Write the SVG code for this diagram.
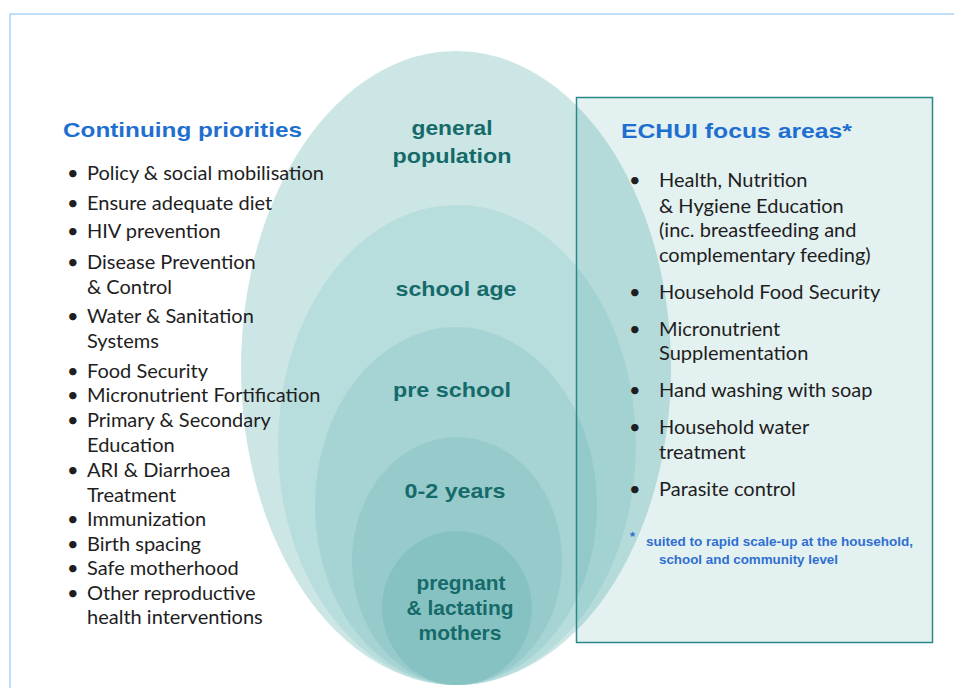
<svg xmlns="http://www.w3.org/2000/svg" width="954" height="688" viewBox="0 0 954 688">
<style>
.frame{fill:none;stroke:#a9d2f7;stroke-width:1.5}
.title{font-family:"Liberation Sans",Arial,sans-serif;font-weight:bold;font-size:21px;fill:#1f6fd0}
.body{font-family:Lato,"Liberation Sans",sans-serif;font-size:20px;fill:#1e1e1e}
.lab{font-family:"Liberation Sans",Arial,sans-serif;font-weight:bold;font-size:21px;fill:#156a6a;text-anchor:middle}
.note{font-family:"Liberation Sans",Arial,sans-serif;font-weight:bold;font-size:12px;fill:#2f6fd0}
</style>
<rect width="954" height="688" fill="#ffffff"/>
<path class="frame" d="M10,688 V14 H954"/>
<g id="ellipses">
<g id="general-population">
<ellipse cx="456" cy="368" rx="215" ry="317" fill="#cce6e6"/>
<text class="lab" x="452" y="135" textLength="81" lengthAdjust="spacingAndGlyphs">general</text>
<text class="lab" x="452" y="163" textLength="119" lengthAdjust="spacingAndGlyphs">population</text>
</g>
<g id="school-age">
<ellipse cx="457" cy="445" rx="179" ry="240" fill="#b8dddd"/>
<text class="lab" x="456" y="296" textLength="121" lengthAdjust="spacingAndGlyphs">school age</text>
</g>
<g id="pre-school">
<ellipse cx="456" cy="506" rx="141" ry="179" fill="#a6d3d3"/>
<text class="lab" x="452" y="397" textLength="118" lengthAdjust="spacingAndGlyphs">pre school</text>
</g>
<g id="zero-two-years">
<ellipse cx="457" cy="561" rx="105" ry="124" fill="#97cbcb"/>
<text class="lab" x="455" y="498" textLength="101" lengthAdjust="spacingAndGlyphs">0-2 years</text>
</g>
<g id="pregnant-lactating">
<ellipse cx="457" cy="608" rx="75" ry="77" fill="#87c2c2"/>
<text class="lab" x="461" y="590" textLength="89" lengthAdjust="spacingAndGlyphs">pregnant</text>
<text class="lab" x="460" y="615" textLength="107" lengthAdjust="spacingAndGlyphs">&amp; lactating</text>
<text class="lab" x="460" y="640" textLength="83" lengthAdjust="spacingAndGlyphs">mothers</text>
</g>
</g>
<g id="continuing-priorities">
<text class="title" x="63" y="137" textLength="239" lengthAdjust="spacingAndGlyphs">Continuing priorities</text>
<g class="body">
<text x="67" y="180">•</text><text x="87" y="180">Policy &amp; social mobilisation</text>
<text x="67" y="210">•</text><text x="87" y="210">Ensure adequate diet</text>
<text x="67" y="238">•</text><text x="87" y="238">HIV prevention</text>
<text x="67" y="269">•</text><text x="87" y="269">Disease Prevention</text>
<text x="87" y="294">&amp; Control</text>
<text x="67" y="323">•</text><text x="87" y="323">Water &amp; Sanitation</text>
<text x="87" y="348">Systems</text>
<text x="67" y="378">•</text><text x="87" y="378">Food Security</text>
<text x="67" y="402">•</text><text x="87" y="402">Micronutrient Fortification</text>
<text x="67" y="427">•</text><text x="87" y="427">Primary &amp; Secondary</text>
<text x="87" y="452">Education</text>
<text x="67" y="477">•</text><text x="87" y="477">ARI &amp; Diarrhoea</text>
<text x="87" y="502">Treatment</text>
<text x="67" y="526">•</text><text x="87" y="526">Immunization</text>
<text x="67" y="551">•</text><text x="87" y="551">Birth spacing</text>
<text x="67" y="575">•</text><text x="87" y="575">Safe motherhood</text>
<text x="67" y="600">•</text><text x="87" y="600">Other reproductive</text>
<text x="87" y="624">health interventions</text>
</g>
</g>
<g id="echui-focus-areas">
<rect x="576.5" y="97.5" width="356" height="545" fill="#008080" fill-opacity="0.11" stroke="#2a8888" stroke-width="1.5"/>
<text class="title" x="621" y="138" textLength="231" lengthAdjust="spacingAndGlyphs">ECHUI focus areas*</text>
<g class="body">
<text x="629" y="187">•</text><text x="659" y="187">Health, Nutrition</text>
<text x="659" y="213">&amp; Hygiene Education</text>
<text x="659" y="237">(inc. breastfeeding and</text>
<text x="659" y="262">complementary feeding)</text>
<text x="629" y="299">•</text><text x="659" y="299">Household Food Security</text>
<text x="629" y="336">•</text><text x="659" y="336">Micronutrient</text>
<text x="659" y="360">Supplementation</text>
<text x="629" y="397">•</text><text x="659" y="397">Hand washing with soap</text>
<text x="629" y="434">•</text><text x="659" y="434">Household water</text>
<text x="659" y="459">treatment</text>
<text x="629" y="496">•</text><text x="659" y="496">Parasite control</text>
</g>
<text class="note" x="630" y="541" style="font-size:13px">*</text>
<text class="note" x="646" y="546" textLength="267" lengthAdjust="spacingAndGlyphs">suited to rapid scale-up  at the household,</text>
<text class="note" x="659" y="564" textLength="179" lengthAdjust="spacingAndGlyphs">school and community level</text>
</g>
</svg>
